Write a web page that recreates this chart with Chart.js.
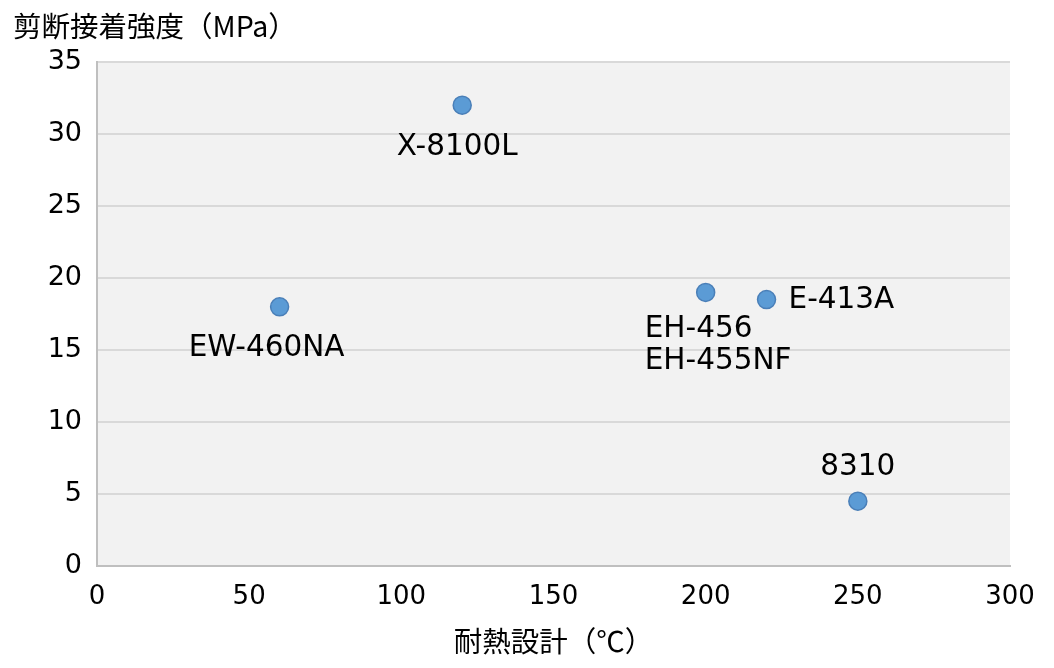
<!DOCTYPE html>
<html>
<head>
<meta charset="utf-8">
<script src="https://cdn.jsdelivr.net/npm/chart.js@4"></script>
<style>
  html, body { margin: 0; padding: 0; background: #fff; }
  #wrap { width: 1054px; height: 668px; }
</style>
</head>
<body>
<div id="wrap"><canvas id="chart"></canvas></div>
<script>
const productNames = ['EW-460NA', 'X-8100L', 'EH-456\nEH-455NF', 'E-413A', '8310'];
const heatResistance = [60, 120, 200, 220, 250];
const shearStrength = [18, 32, 19, 18.5, 4.5];
const yTitle = '剪断接着強度（MPa）';
const xTitle = '耐熱設計（℃）';

const FONT = "'DejaVu Sans', 'Noto Sans CJK JP', sans-serif";
const CJK = "'Noto Sans CJK JP', 'DejaVu Sans', sans-serif";

// where each label sits relative to its point (pixels)
const labelPlace = [
  { dx: -13, dy: 42, align: 'center' },
  { dx: -5, dy: 42, align: 'center' },
  { dx: -61, dy: 37, align: 'left' },
  { dx: 22, dy: 1, align: 'left' },
  { dx: 0, dy: -34, align: 'center' },
];

const plotBg = {
  id: 'plotBg',
  beforeDraw(chart) {
    const { ctx, chartArea: a } = chart;
    ctx.save();
    ctx.fillStyle = '#f2f2f2';
    ctx.fillRect(a.left, a.top, a.right - a.left, a.bottom - a.top);
    ctx.restore();
  }
};

const pointLabels = {
  id: 'pointLabels',
  afterDatasetsDraw(chart) {
    const { ctx } = chart;
    const meta = chart.getDatasetMeta(0);
    ctx.save();
    ctx.fillStyle = '#000';
    ctx.font = `29.5px ${FONT}`;
    ctx.textBaseline = 'middle';
    meta.data.forEach((pt, i) => {
      const p = labelPlace[i];
      ctx.textAlign = p.align;
      productNames[i].split('\n').forEach((line, j) => {
        ctx.fillText(line, pt.x + p.dx, pt.y + p.dy + j * 32);
      });
    });
    // y axis title sits horizontally above the plot
    ctx.font = `28.5px ${CJK}`;
    ctx.textAlign = 'left';
    ctx.fillText(yTitle, 13, 26);
    ctx.restore();
  }
};

new Chart(document.getElementById('chart'), {
  type: 'scatter',
  data: {
    datasets: [{
      data: heatResistance.map((x, i) => ({ x, y: shearStrength[i] })),
      backgroundColor: '#5b9bd5',
      borderColor: '#4a7fb8',
      borderWidth: 1.5,
      pointRadius: 9,
      pointHoverRadius: 9,
    }]
  },
  plugins: [plotBg, pointLabels],
  options: {
    responsive: true, maintainAspectRatio: false,
    animation: false,
    layout: { padding: { top: 62, right: 44, left: 0, bottom: 10 } },
    plugins: { legend: { display: false }, tooltip: { enabled: false } },
    scales: {
      x: {
        min: 0, max: 300,
        grid: { display: false, drawTicks: false },
        border: { color: '#bfbfbf', width: 2 },
        ticks: { stepSize: 50, color: '#000', padding: 16, font: { family: FONT, size: 26 } },
        title: { display: true, text: xTitle, color: '#000', padding: { top: 0, bottom: 0 }, font: { family: CJK, size: 28.5 } },
        afterFit: s => { s.height = 92; }
      },
      y: {
        min: 0, max: 35,
        grid: { color: '#d9d9d9', lineWidth: 2, drawTicks: false },
        border: { color: '#bfbfbf', width: 2 },
        ticks: { stepSize: 5, color: '#000', padding: 15, font: { family: FONT, size: 27 } },
        afterFit: s => { s.width = 97; }
      }
    }
  }
});
</script>
</body>
</html>
